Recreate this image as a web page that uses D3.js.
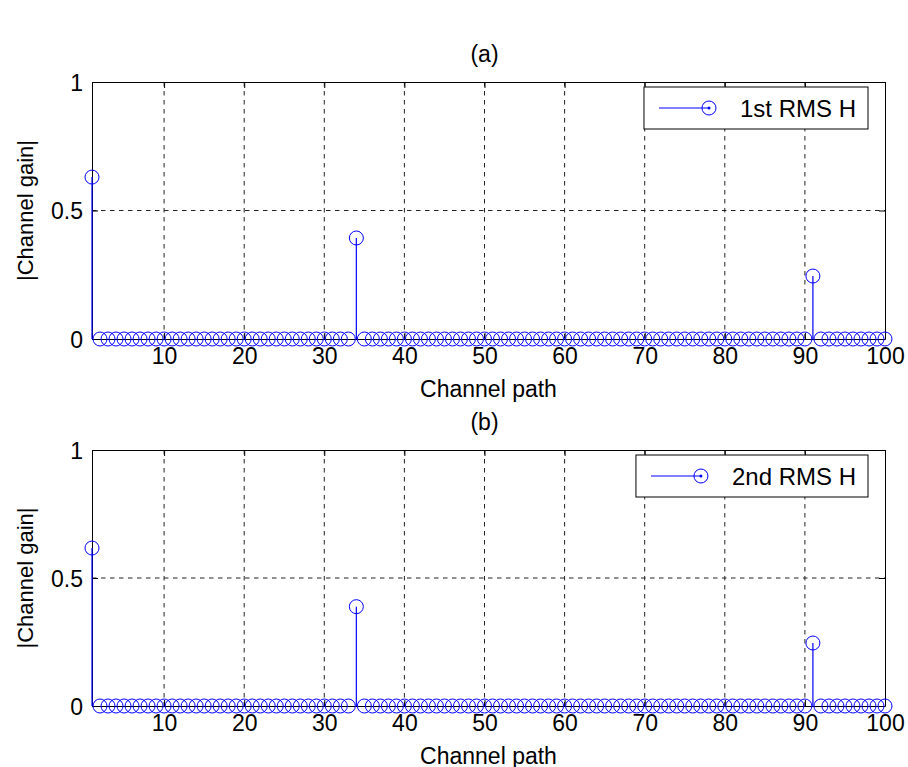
<!DOCTYPE html>
<html>
<head>
<meta charset="utf-8">
<script src="https://cdn.jsdelivr.net/npm/d3@7"></script>
<style>
  body { margin: 0; background: #fff; }
  svg { display: block; font-family: "Liberation Sans", Arial, sans-serif; }
</style>
</head>
<body>
<svg id="chart" width="908" height="767"></svg>
<script>
// Channel path indices shown on the x axis
const channelPaths = d3.range(1, 101);
const xTicks = [10, 20, 30, 40, 50, 60, 70, 80, 90, 100];
const yTicks = [0, 0.5, 1];

// Non-zero taps, every other path is 0
const tapPathsA = [1, 34, 91];
const tapGainsA = [0.63, 0.393, 0.245];
const tapPathsB = [1, 34, 91];
const tapGainsB = [0.617, 0.388, 0.246];

const panelTitles = ['(a)', '(b)'];
const legendLabels = ['1st RMS H', '2nd RMS H'];

function buildSeries(paths, gains) {
    return channelPaths.map(p => {
        const i = paths.indexOf(p);
        return {path: p, gain: i === -1 ? 0 : gains[i]};
    });
}

const BLUE = '#0000ff';
const FONT = '23px';
const svg = d3.select('#chart');

function drawPanel(top, bottom, data, title, legendLabel) {
    const left = 92, right = 885;

    const xScale = d3.scaleLinear().domain([1, 100]).range([left, right]);
    const yScale = d3.scaleLinear().domain([0, 1]).range([bottom, top]);

    const g = svg.append('g');

    // dashed grid
    g.selectAll('.vgrid')
        .data(xTicks.filter(t => t < 100))
        .join('line')
        .attr('x1', d => xScale(d)).attr('x2', d => xScale(d))
        .attr('y1', top).attr('y2', bottom)
        .attr('stroke', '#222').attr('stroke-width', 1)
        .attr('stroke-dasharray', '4.5,4.5');
    g.selectAll('.hgrid')
        .data(yTicks.filter(t => t > 0 && t < 1))
        .join('line')
        .attr('x1', left).attr('x2', right)
        .attr('y1', d => yScale(d)).attr('y2', d => yScale(d))
        .attr('stroke', '#222').attr('stroke-width', 1)
        .attr('stroke-dasharray', '4.5,4.5');

    // axes, MATLAB style ticks point inward
    const xAxis = d3.axisBottom(xScale).tickValues(xTicks).tickSize(-6).tickPadding(9).tickSizeOuter(0);
    const xAxisTop = d3.axisTop(xScale).tickValues(xTicks).tickSize(-6).tickFormat('').tickSizeOuter(0);
    const yAxis = d3.axisLeft(yScale).tickValues(yTicks).tickSize(-6).tickPadding(9).tickFormat(d3.format('')).tickSizeOuter(0);
    const yAxisRight = d3.axisRight(yScale).tickValues(yTicks).tickSize(-6).tickFormat('').tickSizeOuter(0);

    const axes = [
        g.append('g').attr('transform', `translate(0,${bottom})`).call(xAxis),
        g.append('g').attr('transform', `translate(0,${top})`).call(xAxisTop),
        g.append('g').attr('transform', `translate(${left},0)`).call(yAxis),
        g.append('g').attr('transform', `translate(${right},0)`).call(yAxisRight)
    ];
    axes.forEach(a => {
        a.select('.domain').attr('stroke', '#000').attr('stroke-width', 1);
        a.selectAll('.tick line').attr('stroke', '#000');
        a.selectAll('.tick text').attr('fill', '#000').style('font-size', FONT).attr('font-family', null);
    });
    axes[0].selectAll('.tick text').attr('dy', '0.71em');
    axes[2].selectAll('.tick text').attr('dy', '0.36em');

    // stems
    g.selectAll('.stem')
        .data(data)
        .join('line')
        .attr('x1', d => xScale(d.path)).attr('x2', d => xScale(d.path))
        .attr('y1', yScale(0)).attr('y2', d => yScale(d.gain))
        .attr('stroke', BLUE).attr('stroke-width', 1.2);

    // markers
    g.selectAll('.marker')
        .data(data)
        .join('circle')
        .attr('cx', d => xScale(d.path))
        .attr('cy', d => yScale(d.gain))
        .attr('r', 7)
        .attr('fill', 'none')
        .attr('stroke', BLUE).attr('stroke-width', 1);

    // panel title and axis labels
    svg.append('text')
        .attr('x', (left + right) / 2 - 4).attr('y', top - 20)
        .attr('text-anchor', 'middle')
        .style('font-size', FONT)
        .text(title);

    svg.append('text')
        .attr('x', (left + right) / 2).attr('y', bottom + 58)
        .attr('text-anchor', 'middle')
        .style('font-size', FONT)
        .text('Channel path');

    svg.append('text')
        .attr('transform', `translate(33,${(top + bottom) / 2}) rotate(-90)`)
        .attr('text-anchor', 'middle')
        .style('font-size', '22px')
        .text('|Channel gain|');

    // legend
    const legend = g.append('g');
    const boxRight = right - 17, boxTop = top + 5, boxH = 42;
    const label = legend.append('text')
        .attr('x', boxRight - 12).attr('y', boxTop + boxH / 2)
        .attr('dy', '0.36em')
        .attr('text-anchor', 'end')
        .style('font-size', '24px')
        .text(legendLabel);
    const textW = label.node().getComputedTextLength();
    const textLeft = boxRight - 12 - textW;
    legend.insert('rect', 'text')
        .attr('x', textLeft - 96).attr('y', boxTop)
        .attr('width', textW + 108).attr('height', boxH)
        .attr('fill', '#fff').attr('stroke', '#000').attr('stroke-width', 1);
    const ly = boxTop + boxH / 2;
    legend.append('line')
        .attr('x1', textLeft - 81).attr('x2', textLeft - 31)
        .attr('y1', ly).attr('y2', ly)
        .attr('stroke', BLUE).attr('stroke-width', 1);
    legend.append('circle')
        .attr('cx', textLeft - 31).attr('cy', ly).attr('r', 7)
        .attr('fill', 'none').attr('stroke', BLUE);
    legend.append('circle')
        .attr('cx', textLeft - 31).attr('cy', ly).attr('r', 1.5)
        .attr('fill', BLUE);
}

drawPanel(82, 339, buildSeries(tapPathsA, tapGainsA), panelTitles[0], legendLabels[0]);
drawPanel(450, 706, buildSeries(tapPathsB, tapGainsB), panelTitles[1], legendLabels[1]);
</script>
</body>
</html>
